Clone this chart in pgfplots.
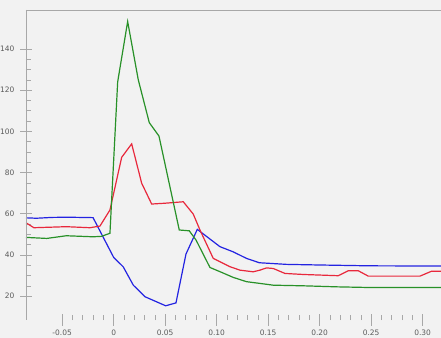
\documentclass[border=0pt]{standalone}
\usepackage{fontspec}
\setmainfont{DejaVu Sans}
\usepackage{pgfplots}
\pgfplotsset{compat=1.18}
\definecolor{bgc}{HTML}{F2F2F2}
\definecolor{axc}{HTML}{A8A8A8}
\definecolor{lblc}{HTML}{5A5A5A}
\definecolor{cgreen}{RGB}{40,145,40}
\definecolor{cred}{RGB}{232,40,60}
\definecolor{cblue}{RGB}{35,35,225}
\begin{document}
\begin{tikzpicture}
\fill[bgc] (0,0) rectangle (441bp,338bp);
\begin{axis}[
  at={(26bp,18bp)}, anchor=south west,
  scale only axis, width=415bp, height=310bp,
  xmin=-0.0851, xmax=0.3178, ymin=8.4, ymax=158.9,
  axis line style={draw=none},
  tick pos=left,
  xtick={-0.05,0,0.05,0.10,0.15,0.20,0.25,0.30},
  xticklabels={-0.05,0,0.05,0.10,0.15,0.20,0.25,0.30},
  ytick={20,40,60,80,100,120,140},
  yticklabels={20,40,60,80,100,120,140},
  minor x tick num=4, minor y tick num=3,
  tick align=center,
  major tick length=11bp, minor tick length=4.5bp,
  every tick/.style={axc, line width=0.6bp},
  minor x tick style={yshift=2.25bp},
  minor y tick style={xshift=2.25bp},
  tick label style={font=\fontsize{7.5}{9}\selectfont, text=lblc},
  /pgf/number format/assume math mode=true,
  xticklabel style={anchor=north, inner sep=0pt, yshift=-4.5bp},
  yticklabel style={anchor=east, inner sep=0pt, xshift=-6bp},
  clip=true,
]
\addplot[cblue, line width=1.2bp] coordinates {
(-0.0851,58.0) (-0.075,57.8) (-0.06,58.2) (-0.045,58.3) (-0.02,58.1)
(0.0,38.8) (0.0093,34.2) (0.0191,25.3) (0.0304,19.7) (0.0505,15.3)
(0.0605,16.7) (0.0702,40.4) (0.0812,52.4) (0.1032,44.0) (0.116,41.5)
(0.129,38.3) (0.1414,36.2) (0.168,35.4) (0.2003,35.1) (0.2488,34.7) (0.3178,34.6)
};
\addplot[cred, line width=1.2bp] coordinates {
(-0.0851,55.6) (-0.0775,53.2) (-0.046,53.7) (-0.023,53.2) (-0.0133,54.0)
(-0.0036,61.8) (0.0078,87.4) (0.0175,93.9) (0.0272,74.8) (0.0369,64.7)
(0.05,65.1) (0.0676,65.8) (0.0773,59.8) (0.0838,52.1) (0.0967,38.3)
(0.1128,34.3) (0.1226,32.6) (0.1355,31.8) (0.142,32.6) (0.1485,33.7)
(0.155,33.4) (0.1663,31.0) (0.1841,30.5) (0.218,29.9) (0.2278,32.3)
(0.2375,32.3) (0.2472,29.7) (0.2715,29.7) (0.2974,29.7) (0.3087,32.1) (0.3178,32.1)
};
\addplot[cgreen, line width=1.2bp] coordinates {
(-0.0851,48.5) (-0.065,48.0) (-0.046,49.3) (-0.02,48.8) (-0.012,49.0)
(-0.0036,50.5) (0.0039,124.0) (0.0136,153.3) (0.0239,125.0) (0.0346,104.2)
(0.044,97.7) (0.0637,52.1) (0.0734,51.7) (0.08,47.2) (0.0935,33.9)
(0.1049,31.5) (0.116,29.1) (0.129,27.0) (0.1414,26.2) (0.155,25.3)
(0.1841,25.0) (0.2165,24.5) (0.2456,24.2) (0.29,24.2) (0.3178,24.2)
};
\draw[axc, line width=0.8bp] (rel axis cs:0,1) -- (rel axis cs:0,0) -- (rel axis cs:1,0);
\draw[axc, line width=0.8bp] (rel axis cs:0,1) -- (rel axis cs:1,1);
\end{axis}
\pgfresetboundingbox
\useasboundingbox (0,0) rectangle (441bp,338bp);
\end{tikzpicture}
\end{document}
